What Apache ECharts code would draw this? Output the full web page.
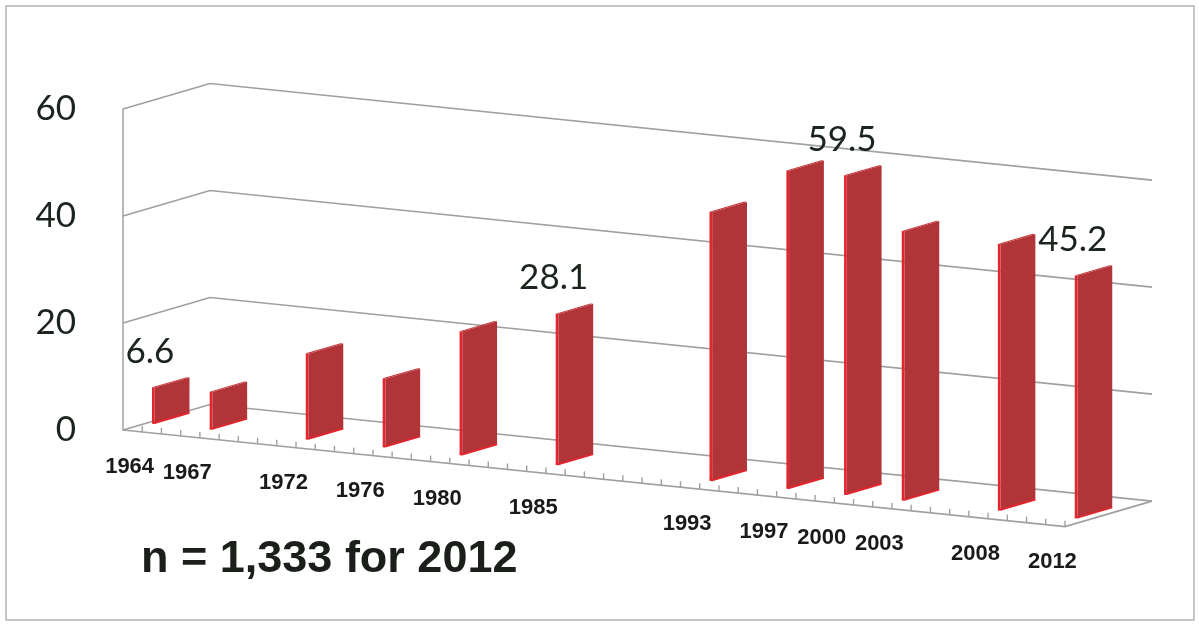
<!DOCTYPE html>
<html>
<head>
<meta charset="utf-8">
<script src="https://cdn.jsdelivr.net/npm/echarts@6/dist/echarts.min.js"></script>
<style>
  html, body { margin: 0; padding: 0; background: #fff; }
  #chart { width: 1199px; height: 624px; }
</style>
</head>
<body>
<div id="chart"></div>
<script>
// every year on the floor axis, one slot each
const firstYear = 1964
const lastYear = 2012
const years = []
for (let y = firstYear; y <= lastYear; y++) years.push(String(y))

const surveyYears = [1964, 1967, 1972, 1976, 1980, 1985, 1993, 1997, 2000, 2003, 2008, 2012]
const percents = [6.6, 6.9, 15.9, 12.7, 23.0, 28.1, 50.1, 59.3, 59.5, 50.2, 49.6, 45.2]
const labelledYears = [1964, 1985, 2000, 2012]
const yTicks = [0, 20, 40, 60]
const note = 'n = 1,333 for 2012'

// oblique 3d look: where the back of the box sits and how the floor tilts
const DEPTH = [87, -25.5]
const FLOOR_SLOPE = 0.1026
const GRID_COLOR = '#a0a0a0'
const TEXT_COLOR = '#1b241d'

function projector(api) {
  const origin = api.coord([0, 0])
  const band = api.size([1, 0])[0]
  const x0 = origin[0] - band / 2
  return function (u, v, w) {
    const y = api.coord([0, v])[1]
    return [x0 + u * band + w * DEPTH[0], y + u * band * FLOOR_SLOPE + w * DEPTH[1]]
  }
}

const chart = echarts.init(document.getElementById('chart'), null, { renderer: 'canvas' })

const option = {
  animation: false,
  backgroundColor: '#fff',
  title: {
    text: note,
    left: 136,
    top: 532,
    textStyle: {
      fontFamily: 'Liberation Sans',
      fontSize: 45,
      fontWeight: 'bold',
      color: '#1a1f1a'
    }
  },
  graphic: [
    {
      type: 'rect',
      shape: { x: 6, y: 6, width: 1188, height: 614 },
      style: { fill: 'none', stroke: '#b4b4b4', lineWidth: 1.5 },
      z: 0
    }
  ],
  grid: {
    left: 123,
    right: 134,
    top: 109,
    bottom: 194
  },
  xAxis: {
    type: 'category',
    data: years,
    show: false
  },
  yAxis: {
    type: 'value',
    min: 0,
    max: 60,
    interval: 20,
    axisLine: { show: true, lineStyle: { color: GRID_COLOR, width: 1.5 } },
    axisTick: { show: false },
    splitLine: { show: false },
    axisLabel: {
      margin: 47,
      fontFamily: 'Lato',
      fontSize: 35,
      color: TEXT_COLOR
    }
  },
  series: [
    {
      // back wall, left wall and floor lines
      type: 'custom',
      silent: true,
      data: yTicks.map(v => [0, v]),
      renderItem: function (params, api) {
        const p = projector(api)
        const v = api.value(1)
        const n = years.length
        const children = [{
          type: 'polyline',
          shape: { points: [p(0, v, 0), p(0, v, 1), p(n, v, 1)] },
          style: { stroke: GRID_COLOR, lineWidth: 1.7, fill: 'none' }
        }]
        if (v === 0) {
          children.push({
            type: 'polyline',
            shape: { points: [p(0, 0, 0), p(n, 0, 0), p(n, 0, 1)] },
            style: { stroke: GRID_COLOR, lineWidth: 1.7, fill: 'none' }
          })
          for (let u = 1; u <= n; u++) {
            const a = p(u, 0, 0)
            children.push({
              type: 'line',
              shape: { x1: a[0], y1: a[1], x2: a[0], y2: a[1] - 6 },
              style: { stroke: GRID_COLOR, lineWidth: 1.4 }
            })
          }
        }
        return { type: 'group', children: children }
      }
    },
    {
      // year labels under the tilted front edge
      type: 'custom',
      silent: true,
      data: surveyYears.map(y => [String(y), 0]),
      renderItem: function (params, api) {
        const p = projector(api)
        const i = api.value(0)
        const c = p(i + 0.5, 0, 0)
        return {
          type: 'text',
          x: c[0] - 3,
          y: c[1] + 36,
          style: {
            text: years[i],
            fontFamily: 'Liberation Sans',
            fontWeight: 'bold',
            fontSize: 22,
            fill: '#1a1a1a',
            align: 'center',
            verticalAlign: 'middle'
          }
        }
      }
    },
    {
      // the columns, seen from front-left
      type: 'custom',
      data: surveyYears.map((y, k) => [String(y), percents[k]]),
      renderItem: function (params, api) {
        const p = projector(api)
        const i = api.value(0)
        const v = api.value(1)
        const u0 = i + 0.15, u1 = i + 0.29
        const w0 = 0.3, w1 = 0.7
        const side = [p(u1, 0, w0), p(u1, 0, w1), p(u1, v, w1), p(u1, v, w0)]
        const front = [p(u0, 0, w0), p(u1, 0, w0), p(u1, v, w0), p(u0, v, w0)]
        const top = [p(u0, v, w0), p(u1, v, w0), p(u1, v, w1), p(u0, v, w1)]
        const children = [
          { type: 'polygon', shape: { points: side }, style: { fill: '#b13538' } },
          { type: 'polygon', shape: { points: top }, style: { fill: '#c8383c' } },
          { type: 'polygon', shape: { points: front }, style: { fill: '#e2262e' } },
          {
            type: 'polyline',
            shape: { points: [p(u0, 0, w0), p(u1, 0, w0), p(u1, 0, w1)] },
            style: { stroke: '#e3252d', lineWidth: 2, fill: 'none' }
          }
        ]
        if (labelledYears.indexOf(Number(years[i])) >= 0) {
          const t = p(u0, v, w0)
          children.push({
            type: 'text',
            x: t[0] - 2,
            y: t[1] - 36,
            style: {
              text: String(v.toFixed(1)),
              fontFamily: 'Lato',
              fontSize: 35,
              fill: TEXT_COLOR,
              align: 'center',
              verticalAlign: 'middle'
            }
          })
        }
        return { type: 'group', children: children }
      }
    }
  ]
}

chart.setOption(option)
window.addEventListener('resize', () => chart.resize())
</script>
</body>
</html>
